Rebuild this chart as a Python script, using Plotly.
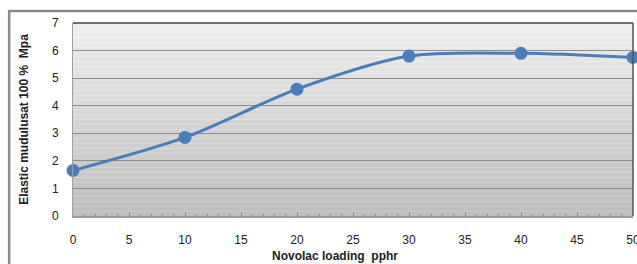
import plotly.graph_objects as go

loading = [0, 10, 20, 30, 40, 50]
modulus = [1.65, 2.85, 4.6, 5.8, 5.9, 5.75]
x_ticks = [0, 5, 10, 15, 20, 25, 30, 35, 40, 45, 50]
y_ticks = [0, 1, 2, 3, 4, 5, 6, 7]

fig = go.Figure()
fig.add_trace(go.Scatter(
    x=loading, y=modulus, mode="lines+markers",
    line=dict(color="#4a7ebb", width=3, shape="spline", smoothing=0.8),
    marker=dict(color="#4a7ebb", size=13),
    cliponaxis=False, showlegend=False,
))

shapes = []
n = 40
for i in range(n):
    t = i / (n - 1)
    c = int(round(0xbe + (0xee - 0xbe) * t))
    shapes.append(dict(type="rect", xref="paper", yref="paper",
                       x0=0, x1=1, y0=i / n, y1=(i + 1) / n,
                       fillcolor=f"rgb({c},{c},{c})", line=dict(width=0),
                       layer="below"))
# outer chart frame
shapes.append(dict(type="rect", xref="paper", yref="paper",
                   x0=-0.114, x1=1.2, y0=-0.6, y1=1.062,
                   line=dict(color="#8c8c8c", width=2.5), layer="below"))
fig.update_layout(shapes=shapes)

font = "Liberation Sans Narrow, Liberation Sans, Arial"
fig.update_layout(
    width=637, height=264,
    margin=dict(l=73, r=4, t=23, b=48, autoexpand=False),
    paper_bgcolor="white", plot_bgcolor="rgba(0,0,0,0)",
    font=dict(family=font, size=12, color="#222222"),
    xaxis=dict(range=[0, 50], tickvals=x_ticks, showgrid=False, automargin=False,
               showline=True, linecolor="#9a9a9a", linewidth=1.5, mirror=False,
               ticks="inside", ticklen=4, tickcolor="#8a8a8a",
               minor=dict(dtick=1, ticks="inside", ticklen=2, tickcolor="#8a8a8a"),
               ticklabelstandoff=12, ticklabeloverflow="allow", zeroline=False),
    yaxis=dict(range=[0, 7], tickvals=y_ticks, showgrid=True, automargin=False,
               gridcolor="#8c8c8c", gridwidth=1, zeroline=False,
               showline=True, linecolor="#a0a0a0", linewidth=1, mirror=False,
               ticks="", ticklabelstandoff=11,
               title=dict(text="<b>Elastic mudulusat 100 %  Mpa</b>", font=dict(size=12), standoff=20)),
)
fig.add_annotation(text="<b>Novolac loading  pphr</b>", xref="paper", yref="paper",
                   x=0.468, y=-0.205, yanchor="middle", showarrow=False,
                   font=dict(size=12, color="#222222"))
# top and right plot borders
fig.add_shape(type="line", xref="paper", yref="paper", x0=0, x1=1, y0=1, y1=1,
              line=dict(color="#404040", width=1.5))
fig.add_shape(type="line", xref="paper", yref="paper", x0=1, x1=1, y0=0, y1=1,
              line=dict(color="#555555", width=1.5))

fig.write_html("out.html", config={"displayModeBar": False},
               post_script="document.body.style.margin='0';document.body.style.overflow='hidden';")
